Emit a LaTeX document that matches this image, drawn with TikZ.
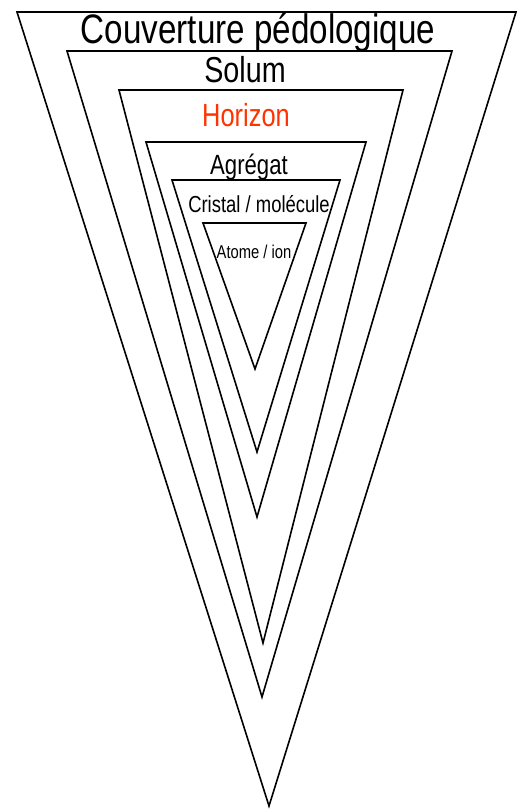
\documentclass[tikz,border=0pt]{standalone}
\usepackage{fontspec}
\setmainfont{Liberation Sans}
\definecolor{hred}{RGB}{255,51,0}
\begin{document}
\begin{tikzpicture}[x=1pt,y=-1pt,
  tri/.style={draw=black,line width=1.6pt,line join=miter},
  lbl/.style={anchor=base,inner sep=0pt}]
\useasboundingbox (0,0) rectangle (528,809);
% triangles: top-left, top-right, tip
\draw[tri] (17,12) -- (516,12) -- (269,806) -- cycle;
\draw[tri] (67,51) -- (452,51) -- (262,697) -- cycle;
\draw[tri] (119,90) -- (403,90) -- (263,643) -- cycle;
\draw[tri] (146,142) -- (366,142) -- (257,517) -- cycle;
\draw[tri] (172,180) -- (340,180) -- (257,452) -- cycle;
\draw[tri] (203,223) -- (306,223) -- (255,369) -- cycle;
% labels
\node[lbl] (t1) at (258,43) {\fontsize{40}{40}\selectfont\scalebox{0.83}[1.03]{Couverture pédologique}};
\node[lbl] (t2) at (245,82) {\fontsize{35}{35}\selectfont\scalebox{0.82}[1.03]{Solum}};
\node[lbl,text=hred] (t3) at (246,126) {\fontsize{31}{31}\selectfont\scalebox{0.82}[1.03]{Horizon}};
\node[lbl] (t4) at (249,174) {\fontsize{27}{27}\selectfont\scalebox{0.82}[1.03]{Agrégat}};
\node[lbl] (t5) at (259,212) {\fontsize{22.5}{22.5}\selectfont\scalebox{0.82}[1.03]{Cristal / molécule}};
\node[lbl] (t6) at (254,258) {\fontsize{18}{18}\selectfont\scalebox{0.82}[1.03]{Atome / ion}};
\end{tikzpicture}
\end{document}
